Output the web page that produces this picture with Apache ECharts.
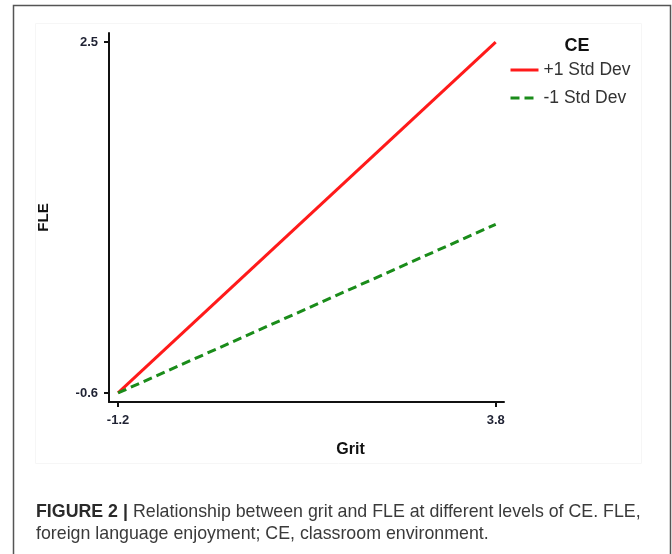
<!DOCTYPE html>
<html>
<head>
<meta charset="utf-8">
<script src="https://cdn.jsdelivr.net/npm/echarts@6/dist/echarts.min.js"></script>
<style>html,body{margin:0;padding:0;background:#fff}#c{width:672px;height:554px}</style>
</head>
<body>
<div id="c"></div>
<script>
var gritValues = [-1.2, 3.8];
var plusOneSD = [-0.6, 2.5];
var minusOneSD = [-0.6, 0.89];
var xTicks = [-1.2, 3.8];
var yTicks = [-0.6, 2.5];
var seriesNames = ['+1 Std Dev', '-1 Std Dev'];

function pairs(xs, ys) { return xs.map(function (x, i) { return [x, ys[i]]; }); }

var chart = echarts.init(document.getElementById('c'), null, {renderer: 'canvas'});
var tickLabel = {fontFamily: 'Liberation Sans, Arial', fontWeight: 'bold', fontSize: 13, color: '#1f2233'};
chart.setOption({
  animation: false,
  grid: {left: 109, right: 168, top: 33, bottom: 152},
  title: [
    {text: 'CE', left: 572, top: 32, textAlign: 'center',
     textStyle: {fontFamily: 'Liberation Sans, Arial', fontWeight: 'bold', fontSize: 18, color: '#111'}},
    {left: 31, top: 496,
     text: '{b|FIGURE 2 |} {n|Relationship between grit and FLE at different levels of CE. FLE,}\n{n|foreign language enjoyment; CE, classroom environment.}',
     textStyle: {fontWeight: 'normal', rich: {
       b: {fontFamily: 'Liberation Sans, Arial', fontWeight: 'bold', fontSize: 17.8, color: '#2a2a2a', lineHeight: 22},
       n: {fontFamily: 'Liberation Sans, Arial', fontWeight: 'normal', fontSize: 17.8, color: '#3a3a3a', lineHeight: 22}
     }}}
  ],
  legend: {
    orient: 'vertical', left: 504, top: 56, itemWidth: 28, itemHeight: 14, itemGap: 10,
    textStyle: {fontFamily: 'Liberation Sans, Arial', fontSize: 17.5, color: '#333'},
    itemStyle: {opacity: 0},
    data: [
      {name: seriesNames[0], lineStyle: {color: '#ff1a1a', width: 3, type: 'solid'}},
      {name: seriesNames[1], lineStyle: {color: '#1a8c1a', width: 3, type: [9, 5]}}
    ]
  },
  xAxis: {
    type: 'value', min: -1.32, max: 3.91,
    name: 'Grit', nameLocation: 'middle', nameGap: 40,
    nameTextStyle: {fontFamily: 'Liberation Sans, Arial', fontWeight: 'bold', fontSize: 16, color: '#111', padding: [0, 0, 0, 88]},
    axisLine: {onZero: false, lineStyle: {color: '#111', width: 2}},
    axisTick: {show: true, length: 5, lineStyle: {width: 2, color: '#111'}, customValues: xTicks},
    axisLabel: Object.assign({margin: 12, customValues: xTicks, formatter: function (v) { return v.toFixed(1); }}, tickLabel),
    splitLine: {show: false}
  },
  yAxis: {
    type: 'value', min: -0.68, max: 2.58,
    name: 'FLE', nameLocation: 'middle', nameGap: 58, nameRotate: 90,
    nameTextStyle: {fontFamily: 'Liberation Sans, Arial', fontWeight: 'bold', fontSize: 15, color: '#111'},
    axisLine: {show: true, onZero: false, lineStyle: {color: '#111', width: 2}},
    axisTick: {show: true, length: 5, lineStyle: {width: 2, color: '#111'}, customValues: yTicks},
    axisLabel: Object.assign({margin: 11, customValues: yTicks, formatter: function (v) { return v.toFixed(1); }}, tickLabel),
    splitLine: {show: false}
  },
  series: [
    {name: seriesNames[0], type: 'line', data: pairs(gritValues, plusOneSD), symbol: 'none',
     lineStyle: {color: '#ff1a1a', width: 3}, itemStyle: {color: '#ff1a1a'}},
    {name: seriesNames[1], type: 'line', data: pairs(gritValues, minusOneSD), symbol: 'none',
     lineStyle: {color: '#1a8c1a', width: 3, type: [9, 5]}, itemStyle: {color: '#1a8c1a'}}
  ],
  graphic: [
    {type: 'rect', shape: {x: 13.5, y: 5.5, width: 657, height: 560}, style: {fill: 'none', stroke: '#555', lineWidth: 1.5}, silent: true},
    {type: 'rect', shape: {x: 35.5, y: 23.5, width: 606, height: 440}, style: {fill: 'none', stroke: '#f6f6f6', lineWidth: 1}, silent: true}
  ]
});
</script>
</body>
</html>
